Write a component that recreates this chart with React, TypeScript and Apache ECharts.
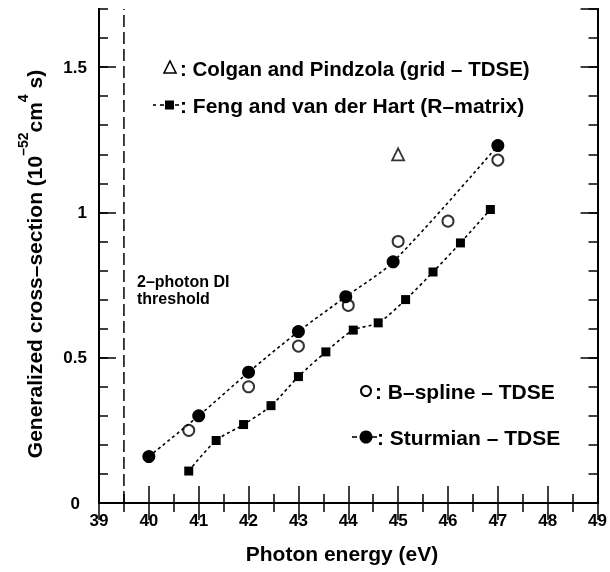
import React, { useEffect, useRef } from "react";
import * as echarts from "echarts";

// ---- data ----
const sturmianX = [40, 41, 42, 43, 43.95, 44.9, 47];
const sturmianY = [0.16, 0.3, 0.45, 0.59, 0.71, 0.83, 1.23];

const bsplineX = [40.8, 42, 43, 44, 45, 46, 47];
const bsplineY = [0.25, 0.4, 0.54, 0.68, 0.9, 0.97, 1.18];

const fengX = [40.8, 41.35, 41.9, 42.45, 43.0, 43.55, 44.1, 44.6, 45.15, 45.7, 46.25, 46.85];
const fengY = [0.11, 0.215, 0.27, 0.335, 0.435, 0.52, 0.595, 0.62, 0.7, 0.795, 0.895, 1.01];

const colganX = [45];
const colganY = [1.2];

const thresholdX = 39.5;
const xRange = [39, 49];
const yRange = [0, 1.7];

const FONT = "'Liberation Sans', Arial, Helvetica, sans-serif";

const pairs = (xs: number[], ys: number[]) => xs.map((x, i) => [x, ys[i]]);

export default function App() {
  const ref = useRef<HTMLDivElement>(null);
  useEffect(() => {
    document.body.style.margin = "0";
    const chart = echarts.init(ref.current!, null, { renderer: "svg" });
    const black = "#000";
    const lbl = { fontFamily: FONT, fontWeight: "bold" as const, fontSize: 17, color: black };
    const xCommon = {
      type: "value" as const,
      min: xRange[0],
      max: xRange[1],
      interval: 1,
      axisLine: { show: true, lineStyle: { color: black, width: 2 } },
      axisTick: { show: true, inside: true, length: 17, lineStyle: { color: black, width: 1.5 } },
      minorTick: { show: true, splitNumber: 2, length: 9, lineStyle: { color: black, width: 1.5 } },
      splitLine: { show: false },
    };
    const yMajor = {
      type: "value" as const,
      min: yRange[0],
      max: yRange[1],
      interval: 0.5,
      axisLine: { show: true, lineStyle: { color: black, width: 2 } },
      axisTick: { show: true, inside: true, length: 17, lineStyle: { color: black, width: 1.5 } },
      splitLine: { show: false },
    };
    const yMinor = {
      type: "value" as const,
      min: yRange[0],
      max: yRange[1],
      interval: 0.1,
      axisLine: { show: true, lineStyle: { color: black, width: 2 } },
      axisTick: { show: true, inside: true, length: 9, lineStyle: { color: black, width: 1.5 } },
      axisLabel: { show: false },
      splitLine: { show: false },
    };
    const textStyle = (text: string, x: number, y: number, size = 21, align = "left") => ({
      type: "text",
      x,
      y,
      style: {
        text,
        fontFamily: FONT,
        fontWeight: "bold",
        fontSize: size,
        fill: black,
        align,
        verticalAlign: "middle",
      },
    });
    const dash = (x1: number, x2: number, y: number) => ({
      type: "line",
      shape: { x1, y1: y, x2, y2: y },
      style: { stroke: black, lineWidth: 1.6 },
    });

    chart.setOption({
      animation: false,
      grid: { left: 99, right: 10, top: 9, bottom: 69 },
      xAxis: [
        { ...xCommon, position: "bottom", axisLabel: { ...lbl, margin: 9 } },
        { ...xCommon, position: "top", axisLabel: { show: false } },
      ],
      yAxis: [
        {
          ...yMajor,
          position: "left",
          axisLabel: {
            ...lbl,
            margin: 12,
            showMaxLabel: false,
            formatter: (v: number) => (v > 1.6 ? "" : v === 0 ? "{z|0}" : String(v)),
            rich: { z: { fontFamily: FONT, fontWeight: "bold", fontSize: 17, color: black, padding: [0, 7, 0, 0] } },
          },
        },
        { ...yMinor, position: "left" },
        { ...yMajor, position: "right", axisLabel: { show: false } },
        { ...yMinor, position: "right" },
      ],
      series: [
        {
          type: "line",
          data: [
            [thresholdX, yRange[0]],
            [thresholdX, yRange[1]],
          ],
          symbol: "none",
          lineStyle: { color: black, width: 1.5, type: [12, 5] },
          silent: true,
        },
        {
          name: "Feng and van der Hart (R-matrix)",
          type: "line",
          data: pairs(fengX, fengY),
          smooth: 0.3,
          symbol: "rect",
          symbolSize: 9,
          itemStyle: { color: black },
          lineStyle: { color: black, width: 1.6, type: [3, 3] },
        },
        {
          name: "Sturmian - TDSE",
          type: "line",
          data: pairs(sturmianX, sturmianY),
          smooth: 0.3,
          symbol: "circle",
          symbolSize: 13,
          itemStyle: { color: black },
          lineStyle: { color: black, width: 1.6, type: [3, 3] },
        },
        {
          name: "B-spline - TDSE",
          type: "scatter",
          data: pairs(bsplineX, bsplineY),
          symbol: "circle",
          symbolSize: 11,
          itemStyle: { color: "#fff", borderColor: black, borderWidth: 2 },
        },
        {
          name: "Colgan and Pindzola (grid - TDSE)",
          type: "scatter",
          data: pairs(colganX, colganY),
          symbol: "triangle",
          symbolSize: 12,
          itemStyle: { color: "#fff", borderColor: black, borderWidth: 1.8 },
        },
      ],
      graphic: [
        // legend row 1
        {
          type: "polygon",
          shape: { points: [[170, 61], [176, 73], [164, 73]] },
          style: { fill: "none", stroke: black, lineWidth: 1.6 },
        },
        textStyle(": Colgan and Pindzola (grid – TDSE)", 180, 68, 20.5),
        // legend row 2
        dash(153, 156, 105),
        dash(160, 164, 105),
        { type: "rect", shape: { x: 165, y: 100.5, width: 9, height: 9 }, style: { fill: black } },
        dash(175, 179, 105),
        textStyle(": Feng and van der Hart (R–matrix)", 180, 105),
        // legend row 3
        { type: "circle", shape: { cx: 366, cy: 391, r: 5 }, style: { fill: "#fff", stroke: black, lineWidth: 2 } },
        textStyle(": B–spline – TDSE", 375, 391),
        // legend row 4
        dash(352, 357, 437),
        { type: "circle", shape: { cx: 366, cy: 437, r: 6.5 }, style: { fill: black } },
        dash(372, 377, 437),
        textStyle(": Sturmian – TDSE", 377, 437),
        // threshold note
        textStyle("2–photon DI", 137, 281, 16),
        textStyle("threshold", 137, 298, 16),
        // axis titles
        textStyle("Photon energy (eV)", 342, 553, 21, "center"),
        {
          type: "text",
          x: 30,
          y: 264,
          rotation: Math.PI / 2,
          style: {
            text: "{a|Generalized cross–section (10}{s|–52}{a|cm}{s|4}{a| s)}",
            align: "center",
            verticalAlign: "middle",
            fill: black,
            rich: {
              a: { fontFamily: FONT, fontWeight: "bold", fontSize: 21, lineHeight: 29, verticalAlign: "bottom", fill: black },
              s: { fontFamily: FONT, fontWeight: "bold", fontSize: 14, lineHeight: 12, verticalAlign: "top", fill: black },
            },
          },
        },
      ],
    });
    return () => chart.dispose();
  }, []);
  return <div ref={ref} style={{ position: "fixed", left: 0, top: 0, width: 610, height: 572 }} />;
}
